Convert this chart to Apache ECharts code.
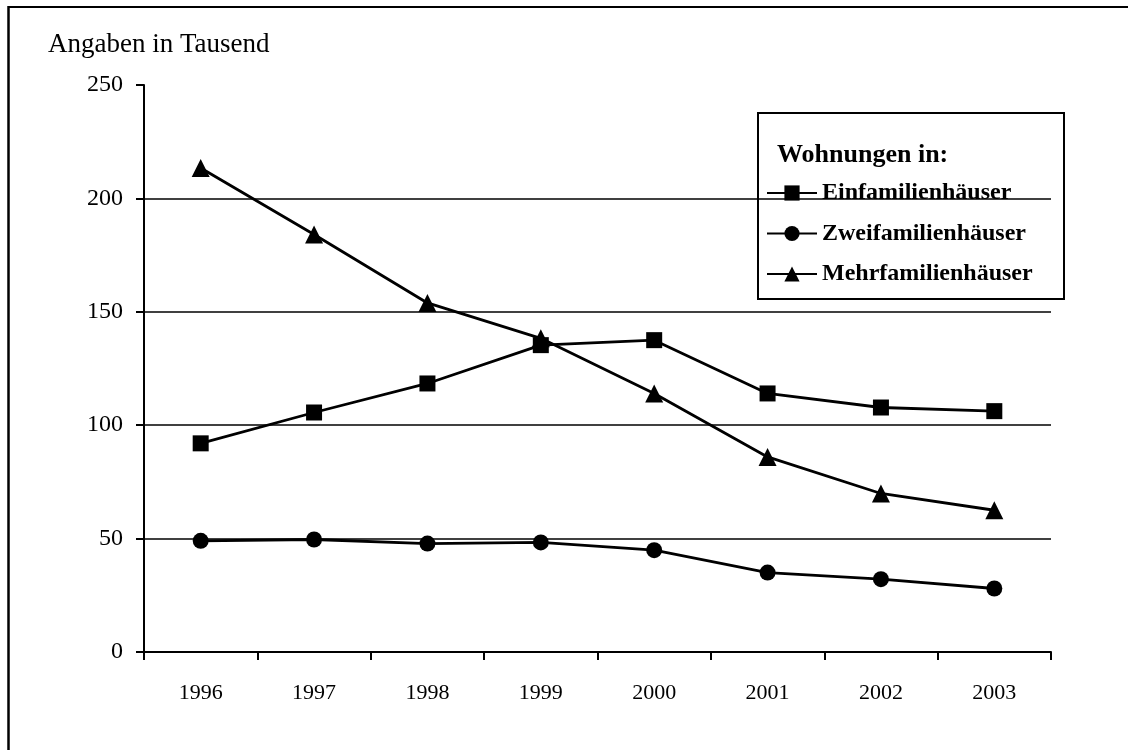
<!DOCTYPE html>
<html>
<head>
<meta charset="utf-8">
<script src="https://cdn.jsdelivr.net/npm/echarts@6/dist/echarts.min.js"></script>
<style>
  html, body { margin: 0; padding: 0; background: #fff; }
  #chart { width: 1128px; height: 750px; }
</style>
</head>
<body>
<div id="chart"></div>
<script>
const years = ['1996', '1997', '1998', '1999', '2000', '2001', '2002', '2003']
const einfamilien = [92, 105.6, 118.4, 135.3, 137.5, 114, 107.8, 106.2]
const zweifamilien = [49, 49.6, 47.8, 48.3, 44.9, 35, 32.1, 28]
const mehrfamilien = [213.4, 184.1, 153.9, 138.3, 114, 86, 69.9, 62.5]

const FONT = '"Liberation Serif", "Times New Roman", serif'
const INK = '#000'

const makeSeries = (name, data, symbol, size) => ({
  name,
  type: 'line',
  data,
  symbol,
  symbolSize: size,
  lineStyle: { color: INK, width: 2.8 },
  itemStyle: { color: INK },
})

const chart = echarts.init(document.getElementById('chart'))
chart.setOption({
  animation: false,
  backgroundColor: '#fff',
  title: {
    text: 'Angaben in Tausend',
    left: 48,
    top: 31,
    padding: 0,
    textStyle: { fontFamily: FONT, fontSize: 27, fontWeight: 'normal', color: INK },
  },
  grid: { left: 144, right: 77, top: 85, bottom: 98 },
  legend: {
    orient: 'vertical',
    left: 766,
    top: 181,
    padding: 0,
    itemWidth: 50,
    itemHeight: 19,
    itemGap: 16.5,
    textStyle: { fontFamily: FONT, fontSize: 24, fontWeight: 'bold', color: INK },
  },
  graphic: [
    { type: 'line', shape: { x1: 8.5, y1: 6, x2: 8.5, y2: 750 }, style: { stroke: INK, lineWidth: 2.5 } },
    { type: 'line', shape: { x1: 8, y1: 7, x2: 1128, y2: 7 }, style: { stroke: INK, lineWidth: 2 } },
    { type: 'rect', shape: { x: 758, y: 113, width: 306, height: 186 }, style: { fill: 'none', stroke: INK, lineWidth: 2 } },
    {
      type: 'text',
      left: 777,
      top: 142,
      style: { text: 'Wohnungen in:', font: 'bold 26px ' + FONT, fill: INK },
    },
  ],
  xAxis: {
    type: 'category',
    data: years,
    boundaryGap: true,
    axisLine: { lineStyle: { color: INK, width: 2 } },
    axisTick: { show: true, length: 8, lineStyle: { color: INK, width: 2 } },
    axisLabel: { color: INK, fontFamily: FONT, fontSize: 22, margin: 30 },
  },
  yAxis: {
    type: 'value',
    min: 0,
    max: 250,
    interval: 50,
    axisLine: { show: true, lineStyle: { color: INK, width: 2 } },
    axisTick: { show: true, length: 8, lineStyle: { color: INK, width: 2 } },
    axisLabel: { color: INK, fontFamily: FONT, fontSize: 24, margin: 21 },
    splitLine: { show: true, showMaxLine: false, lineStyle: { color: INK, width: 1.5 } },
  },
  series: [
    makeSeries('Einfamilienhäuser', einfamilien, 'rect', 16),
    makeSeries('Zweifamilienhäuser', zweifamilien, 'circle', 16),
    makeSeries('Mehrfamilienhäuser', mehrfamilien, 'triangle', 18),
  ],
})
</script>
</body>
</html>
